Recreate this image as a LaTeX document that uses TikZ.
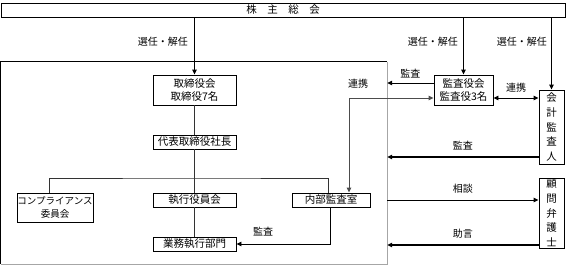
\documentclass[tikz,border=0pt]{standalone}
\usepackage{fontspec}
\setmainfont{Noto Sans CJK JP}
\usetikzlibrary{arrows.meta, positioning}
\tikzset{
  box/.style = {rectangle, draw, line width=0.9pt, inner sep=0pt, align=center,
                font=\fontsize{10.5}{13}\selectfont},
  tatebox/.style = {box, minimum width=25, font=\fontsize{10.5}{14.6}\selectfont},
  lbl/.style = {font=\fontsize{10}{12}\selectfont, inner sep=1pt},
  arrow/.style = {-{Triangle[length=5pt,width=4.5pt]}, line width=0.9pt},
  darrow/.style = {{Triangle[length=5pt,width=4.5pt]}-{Triangle[length=5pt,width=4.5pt]}, line width=0.9pt},
  link/.style = {line width=0.9pt, black!80},
}
\begin{document}
\begin{tikzpicture}[x=1pt, y=-1pt]
  \useasboundingbox (0,0) rectangle (567,266);
  % column centres
  \def\colMain{194.5}
  \def\colKansa{463.5}
  \def\colOut{551.5}

  % --- General meeting bar ---
  \node[box, minimum width=564, minimum height=14] at (283,10) (sokai) {株　主　総　会};

  % --- Company area (shaded frame) ---
  \node[minimum width=386, minimum height=202, inner sep=0pt] at (194,163) (honbu) {};
  \draw[line width=0.9pt] (honbu.south west) |- (honbu.north east);
  \draw[line width=0.9pt, black!35] (honbu.north east) |- (honbu.south west);

  % --- Boards ---
  \node[box, minimum width=83, minimum height=30] at (\colMain,90) (torishimari) {取締役会\\取締役7名};
  \node[box, minimum width=83, minimum height=14] at (\colMain,142) (daihyo) {代表取締役社長};
  \node[box, minimum width=76, minimum height=29, font=\fontsize{9.5}{13}\selectfont]
    at (55,207.5) (compliance) {コンプライアンス\\委員会};
  \node[box, minimum width=83, minimum height=14] at (\colMain,200) (shikko) {執行役員会};
  \node[box, minimum width=83, minimum height=14] at (\colMain,244) (gyomu) {業務執行部門};
  \node[box, minimum width=78, minimum height=14] at (331,200) (naibu) {内部監査室};
  \node[box, minimum width=59, minimum height=30] at (\colKansa,90) (kansayaku) {監査役会\\監査役3名};

  % --- Outside parties ---
  \node[tatebox, minimum height=74] at (\colOut,127) (kaikei) {会\\計\\監\\査\\人};
  \node[tatebox, minimum height=70] at (\colOut,213) (komon) {顧\\問\\弁\\護\\士};

  % Election lines
  \draw[arrow] (sokai.south -| torishimari.north) -- (torishimari.north);
  \draw[arrow] (sokai.south -| kansayaku.north) -- (kansayaku.north);
  \draw[arrow] (sokai.south -| kaikei.north) -- (kaikei.north);
  \node[lbl, left] at (189,42) (sennin1) {選任・解任};
  \node[lbl, left] at (459,42) (sennin2) {選任・解任};
  \node[lbl, left] at (548,42) (sennin3) {選任・解任};

  % Internal structure
  \coordinate (branch) at (\colMain,178);
  \draw[link] (torishimari.south) -- (daihyo.north);
  \draw[link] (daihyo.south) -- (shikko.north);
  \draw[link] ([xshift=-6]compliance.north) |- (branch) -| ([xshift=-3]naibu.north);
  \draw[link] (shikko.south) -- (gyomu.north);
  \draw[arrow] ([xshift=-1]naibu.south) |- (gyomu.east);
  \node[lbl] at (263,232) (kansa1) {監査};

  % Audit board links
  \draw[arrow] ([yshift=7]kansayaku.west) -- ([yshift=7]kansayaku.west -| honbu.east)
    node[lbl, midway, above=3pt] (kansa2) {監査};
  \draw[darrow, black!70] ([xshift=18]naibu.north) |- ([yshift=-8]kansayaku.west);
  \node[lbl] at (358,84) (renkei1) {連携};
  \draw[darrow] ([yshift=-8]kansayaku.east) -- ([yshift=-8]kansayaku.east -| kaikei.west)
    node[lbl, midway, above=4pt] (renkei2) {連携};

  % Accounting auditor and counsel
  \draw[arrow, line width=1.2pt] ([yshift=-30]kaikei.west) -- ([yshift=-30]kaikei.west -| honbu.east)
    node[lbl, midway, above=5pt] (kansa3) {監査};
  \draw[arrow] ([yshift=13]komon.west -| honbu.east) -- ([yshift=13]komon.west)
    node[lbl, midway, above=5pt] (sodan) {相談};
  \draw[arrow, line width=1.2pt] ([yshift=-32]komon.west) -- ([yshift=-32]komon.west -| honbu.east)
    node[lbl, midway, above=5pt] (jogen) {助言};
\end{tikzpicture}
\end{document}
